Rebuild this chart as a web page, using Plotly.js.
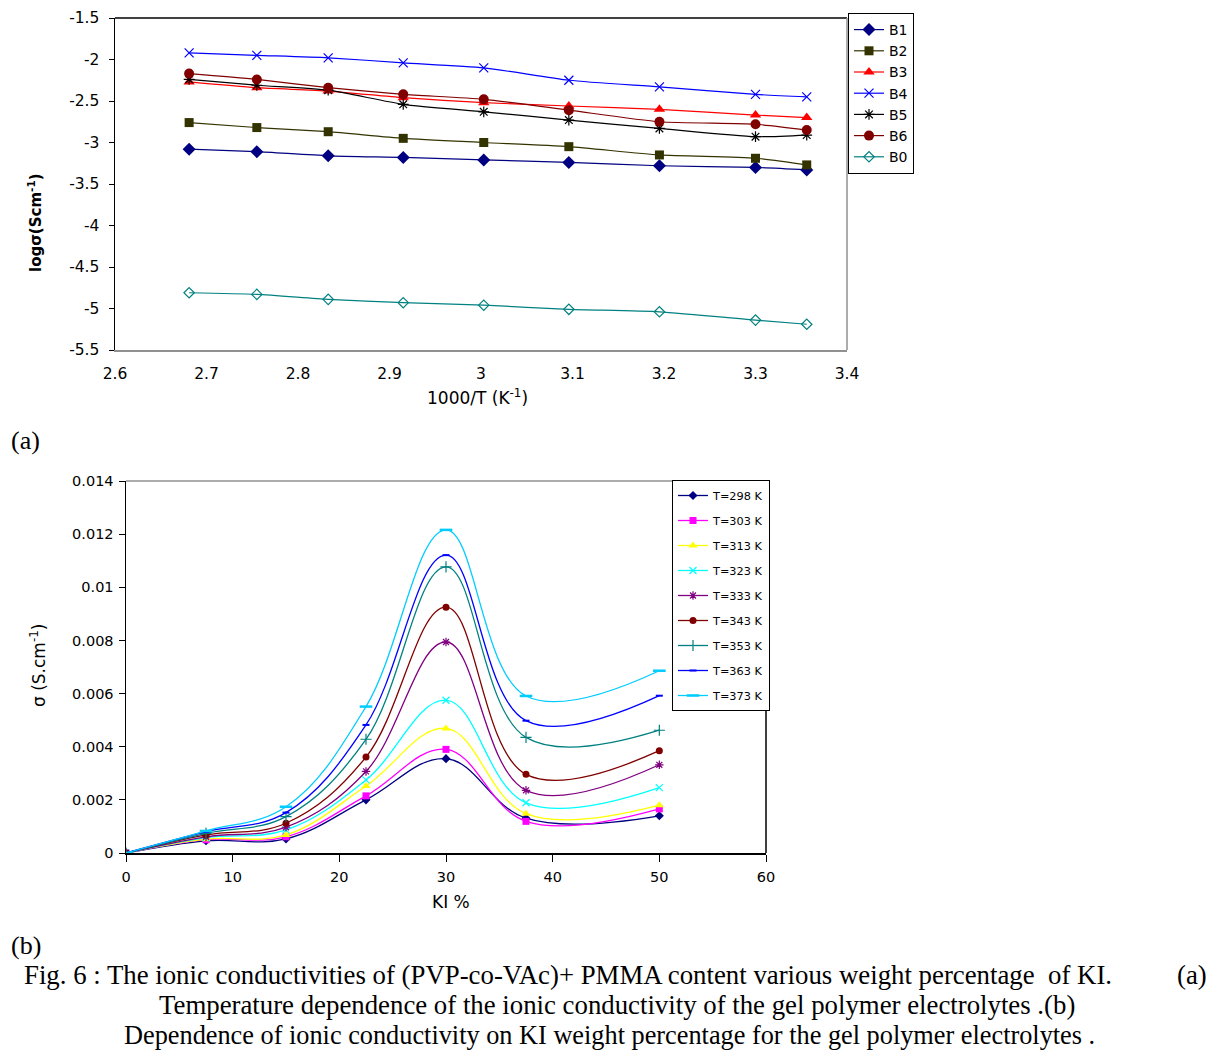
<!DOCTYPE html>
<html>
<head>
<meta charset="utf-8">
<script src="https://cdn.plot.ly/plotly-3.0.1.min.js"></script>
<style>
  html, body { margin: 0; padding: 0; background: #fff; }
  #fig { width: 1216px; height: 1050px; }
</style>
</head>
<body>
<div id="fig"></div>
<script>
// ---- (a) log conductivity vs inverse temperature ----
const invT = [2.681, 2.755, 2.833, 2.915, 3.003, 3.096, 3.195, 3.300, 3.356];
const B1 = [-3.08, -3.11, -3.16, -3.18, -3.21, -3.24, -3.28, -3.30, -3.33];
const B2 = [-2.76, -2.82, -2.87, -2.95, -3.00, -3.05, -3.15, -3.19, -3.27];
const B3 = [-2.27, -2.34, -2.38, -2.46, -2.52, -2.56, -2.60, -2.67, -2.70];
const B4 = [-1.92, -1.95, -1.98, -2.04, -2.10, -2.25, -2.33, -2.42, -2.45];
const B5 = [-2.24, -2.31, -2.37, -2.54, -2.63, -2.73, -2.83, -2.93, -2.91];
const B6 = [-2.17, -2.24, -2.34, -2.42, -2.48, -2.61, -2.75, -2.78, -2.85];
const B0 = [-4.81, -4.83, -4.89, -4.93, -4.96, -5.01, -5.04, -5.14, -5.19];

const xTicksA = [2.6, 2.7, 2.8, 2.9, 3.0, 3.1, 3.2, 3.3, 3.4];
const xTickTextA = ["2.6", "2.7", "2.8", "2.9", "3", "3.1", "3.2", "3.3", "3.4"];
const yTicksA = [-1.5, -2, -2.5, -3, -3.5, -4, -4.5, -5, -5.5];
const yTickTextA = ["-1.5", "-2", "-2.5", "-3", "-3.5", "-4", "-4.5", "-5", "-5.5"];

// ---- (b) conductivity vs KI content ----
const KI = [0, 7.5, 15, 22.5, 30, 37.5, 50];
const T298 = [0, 0.00046, 0.00053, 0.00200, 0.00355, 0.00131, 0.00140];
const T303 = [0, 0.00050, 0.00061, 0.00215, 0.00390, 0.00119, 0.00166];
const T313 = [0, 0.00052, 0.00068, 0.00252, 0.00469, 0.00148, 0.00180];
const T323 = [0, 0.00058, 0.00087, 0.00275, 0.00575, 0.00189, 0.00246];
const T333 = [0, 0.00061, 0.00097, 0.00307, 0.00794, 0.00236, 0.00332];
const T343 = [0, 0.00068, 0.00112, 0.00361, 0.00925, 0.00296, 0.00385];
const T353 = [0, 0.00074, 0.00137, 0.00428, 0.01077, 0.00435, 0.00462];
const T363 = [0, 0.00080, 0.00152, 0.00482, 0.01121, 0.00498, 0.00592];
const T373 = [0, 0.00083, 0.00174, 0.00551, 0.01216, 0.00591, 0.00686];

const xTicksB = [0, 10, 20, 30, 40, 50, 60];
const xTickTextB = ["0", "10", "20", "30", "40", "50", "60"];
const yTicksB = [0, 0.002, 0.004, 0.006, 0.008, 0.010, 0.012, 0.014];
const yTickTextB = ["0", "0.002", "0.004", "0.006", "0.008", "0.01", "0.012", "0.014"];

const SANS = "'DejaVu Sans', Verdana, sans-serif";
const SERIF = "'Liberation Serif', 'Times New Roman', serif";

function seriesA(name, y, color, symbol, size, open) {
  return {
    type: "scatter", mode: "lines+markers", name: name,
    x: invT, y: y, xaxis: "x", yaxis: "y", legend: "legend",
    line: { color: color, width: 1.2, shape: "spline", smoothing: 0.6 },
    marker: open
      ? { symbol: symbol, size: size, color: color, line: { color: color, width: 1.2 } }
      : { symbol: symbol, size: size, color: color, line: { width: 0 } }
  };
}

function seriesB(name, y, color, symbol, size, open, lw) {
  return {
    type: "scatter", mode: "lines+markers", name: name,
    x: KI, y: y, xaxis: "x2", yaxis: "y2", legend: "legend2",
    legendgroup: name,
    line: { color: color, width: 1.3, shape: "spline", smoothing: 1.1 },
    marker: open
      ? { symbol: symbol, size: size, color: color, line: { color: color, width: lw || 1.2 } }
      : { symbol: symbol, size: size, color: color, line: { width: 0 } }
  };
}

const traces = [
  seriesA("B1", B1, "#000080", "diamond", 10, false),
  seriesA("B2", B2, "#333300", "square", 9, false),
  seriesA("B3", B3, "#FF0000", "triangle-up", 10, false),
  seriesA("B4", B4, "#0000FF", "x-thin-open", 9, true),
  seriesA("B5", B5, "#000000", "asterisk-open", 9, true),
  seriesA("B6", B6, "#800000", "circle", 10, false),
  seriesA("B0", B0, "#008080", "diamond-open", 8, true),

  seriesB("T=298 K", T298, "#000080", "diamond", 7, false),
  seriesB("T=303 K", T303, "#FF00FF", "square", 7, false),
  seriesB("T=313 K", T313, "#FFFF00", "triangle-up", 8, false),
  seriesB("T=323 K", T323, "#00FFFF", "x-thin-open", 7, true),
  seriesB("T=333 K", T333, "#800080", "asterisk-open", 7, true),
  seriesB("T=343 K", T343, "#800000", "circle", 7, false),
  seriesB("T=353 K", T353, "#008080", "cross-thin-open", 8, true),
  seriesB("T=363 K", T363, "#0000FF", "line-ew-open", 5, true, 2),
  seriesB("T=373 K", T373, "#00CCFF", "line-ew-open", 9, true, 2.5)
];

const W = 1216, H = 1050;
const px = v => v / W;
const py = v => 1 - v / H;

const layout = {
  width: W, height: H,
  margin: { l: 0, r: 0, t: 0, b: 0 },
  paper_bgcolor: "#ffffff",
  plot_bgcolor: "#ffffff",
  showlegend: true,
  font: { family: SANS, color: "#000000" },

  xaxis: {
    domain: [px(115), px(847)], anchor: "y",
    range: [2.6, 3.4], tickvals: xTicksA, ticktext: xTickTextA,
    showgrid: false, zeroline: false, showline: true, linecolor: "#909090", linewidth: 1.5,
    ticks: "", ticklabelstandoff: 9, tickfont: { family: SANS, size: 15.5, color: "#000" }
  },
  yaxis: {
    domain: [py(350), py(18)], anchor: "x",
    range: [-5.5, -1.5], tickvals: yTicksA, ticktext: yTickTextA,
    showgrid: false, zeroline: false, showline: true, linecolor: "#000", linewidth: 1.5,
    ticks: "outside", ticklen: 5, tickcolor: "#000", ticklabelstandoff: 6,
    tickfont: { family: SANS, size: 15.5, color: "#000" }
  },

  xaxis2: {
    domain: [px(126), px(766)], anchor: "y2",
    range: [0, 60], tickvals: xTicksB, ticktext: xTickTextB,
    showgrid: false, zeroline: false, showline: true, linecolor: "#000", linewidth: 1.5,
    ticks: "outside", ticklen: 7, tickcolor: "#000", ticklabelstandoff: 3,
    tickfont: { family: SANS, size: 14.5, color: "#000" }
  },
  yaxis2: {
    domain: [py(853), py(481)], anchor: "x2",
    range: [0, 0.014], tickvals: yTicksB, ticktext: yTickTextB,
    showgrid: false, zeroline: false, showline: true, linecolor: "#000", linewidth: 1.5,
    ticks: "outside", ticklen: 6, tickcolor: "#000", ticklabelstandoff: 2,
    tickfont: { family: SANS, size: 14.5, color: "#000" }
  },

  legend: {
    x: px(848), y: py(13), xanchor: "left", yanchor: "top",
    bgcolor: "#ffffff", bordercolor: "#000000", borderwidth: 1,
    font: { family: SANS, size: 14, color: "#000" },
    itemwidth: 30, tracegroupgap: 0
  },
  legend2: {
    x: px(672), y: py(480), xanchor: "left", yanchor: "top",
    bgcolor: "#ffffff", bordercolor: "#000000", borderwidth: 1,
    font: { family: SANS, size: 11.3, color: "#000" },
    itemwidth: 30, tracegroupgap: 6
  },

  shapes: [
    // frame of panel (a)
    { type: "line", xref: "x domain", yref: "y domain", x0: 0, x1: 1, y0: 1, y1: 1,
      line: { color: "#000", width: 1.5 } },
    { type: "line", xref: "x domain", yref: "y domain", x0: 1, x1: 1, y0: 0, y1: 1,
      line: { color: "#909090", width: 1.5 } },
    // frame of panel (b)
    { type: "line", xref: "x2 domain", yref: "y2 domain", x0: 0, x1: 1, y0: 1, y1: 1,
      line: { color: "#909090", width: 1.5 } },
    { type: "line", xref: "x2 domain", yref: "y2 domain", x0: 1, x1: 1, y0: 0, y1: 1,
      line: { color: "#000", width: 1.5 } }
  ],

  annotations: [
    { xref: "paper", yref: "paper", x: px(35), y: py(223), textangle: -90,
      text: "<b>logσ(Scm<sup>-1</sup>)</b>", showarrow: false,
      font: { family: SANS, size: 15, color: "#000" }, xanchor: "center", yanchor: "middle" },
    { xref: "paper", yref: "paper", x: px(477), y: py(397),
      text: "1000/T (K<sup>-1</sup>)", showarrow: false,
      font: { family: SANS, size: 17, color: "#000" }, xanchor: "center", yanchor: "middle" },
    { xref: "paper", yref: "paper", x: px(38), y: py(666), textangle: -90,
      text: "σ (S.cm<sup>-1</sup>)", showarrow: false,
      font: { family: SANS, size: 17, color: "#000" }, xanchor: "center", yanchor: "middle" },
    { xref: "paper", yref: "paper", x: px(451), y: py(902),
      text: "KI %", showarrow: false,
      font: { family: SANS, size: 17, color: "#000" }, xanchor: "center", yanchor: "middle" },

    { xref: "paper", yref: "paper", x: px(9), y: py(440), text: "(a)", showarrow: false,
      font: { family: SERIF, size: 26, color: "#000" }, xanchor: "left", yanchor: "middle" },
    { xref: "paper", yref: "paper", x: px(9), y: py(945), text: "(b)", showarrow: false,
      font: { family: SERIF, size: 26, color: "#000" }, xanchor: "left", yanchor: "middle" },
    { xref: "paper", yref: "paper", x: px(22), y: py(975),
      text: "Fig. 6 : The ionic conductivities of (PVP-co-VAc)+ PMMA content various weight percentage  of KI.",
      showarrow: false, font: { family: SERIF, size: 26.8, color: "#000" }, xanchor: "left", yanchor: "middle" },
    { xref: "paper", yref: "paper", x: px(1209), y: py(975), text: "(a)", showarrow: false,
      font: { family: SERIF, size: 26.8, color: "#000" }, xanchor: "right", yanchor: "middle" },
    { xref: "paper", yref: "paper", x: px(617), y: py(1005),
      text: "Temperature dependence of the ionic conductivity of the gel polymer electrolytes .(b)",
      showarrow: false, font: { family: SERIF, size: 26.8, color: "#000" }, xanchor: "center", yanchor: "middle" },
    { xref: "paper", yref: "paper", x: px(609), y: py(1035),
      text: "Dependence of ionic conductivity on KI weight percentage for the gel polymer electrolytes .",
      showarrow: false, font: { family: SERIF, size: 26.3, color: "#000" }, xanchor: "center", yanchor: "middle" }
  ]
};

Plotly.newPlot("fig", traces, layout, { staticPlot: true, displayModeBar: false });
</script>
</body>
</html>
